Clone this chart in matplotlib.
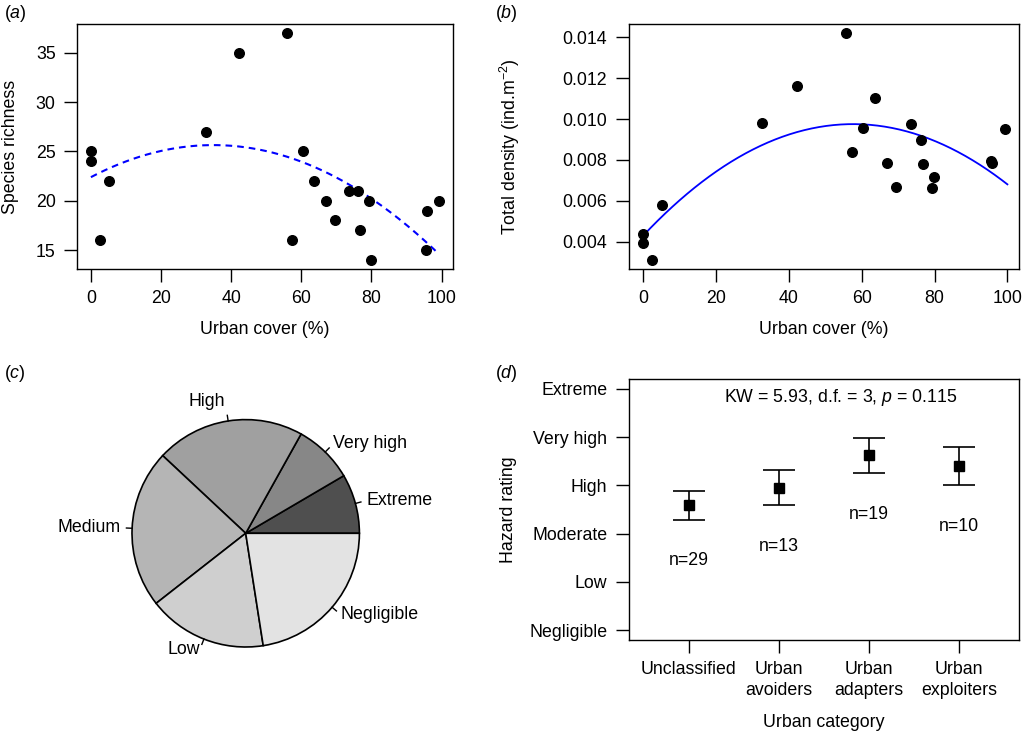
import numpy as np
import matplotlib
matplotlib.use("Agg")
import matplotlib.pyplot as plt

plt.rcParams['font.family'] = ['Liberation Sans', 'DejaVu Sans']
plt.rcParams['font.size'] = 12.8
plt.rcParams['mathtext.fontset'] = 'custom'
plt.rcParams['mathtext.rm'] = 'Liberation Sans'
plt.rcParams['mathtext.it'] = 'Liberation Sans:italic'
plt.rcParams['mathtext.bf'] = 'Liberation Sans:bold'

# ---------------- data ----------------
urban_cover = [0, 0, 2.6, 5.2, 32.7, 42.3, 55.8, 57.4, 60.5, 63.6, 67.0, 69.6,
               73.6, 76.2, 76.7, 79.3, 79.8, 95.5, 95.9, 99.3]
richness = [25, 24, 16, 22, 27, 35, 37, 16, 25, 22, 20, 18,
            21, 21, 17, 20, 14, 15, 19, 20]
density_x = [0, 0, 2.5, 5.1, 32.6, 42.3, 55.7, 57.3, 60.4, 63.6, 66.9, 69.4,
             73.6, 76.2, 76.8, 79.2, 79.8, 95.5, 95.9, 99.3]
density = [0.00439, 0.00393, 0.00310, 0.00578, 0.00981, 0.01162, 0.01421, 0.00838,
           0.00954, 0.01105, 0.00786, 0.00665, 0.00977, 0.00897, 0.00779, 0.00661,
           0.00716, 0.00796, 0.00786, 0.00950]

pie_labels = ['Extreme', 'Very high', 'High', 'Medium', 'Low', 'Negligible']
pie_counts = [6, 6, 15, 16, 12, 16]
pie_colors = ['#4f4f4f', '#878787', '#a0a0a0', '#b5b5b5', '#cfcfcf', '#e3e3e3']

hazard_levels = ['Negligible', 'Low', 'Moderate', 'High', 'Very high', 'Extreme']
categories = ['Unclassified', 'Urban\navoiders', 'Urban\nadapters', 'Urban\nexploiters']
hazard_mean = [2.583, 2.949, 3.619, 3.398]
hazard_upper = [2.880, 3.308, 3.978, 3.798]
hazard_lower = [2.293, 2.583, 3.246, 2.997]
n_species = [29, 13, 19, 10]

W, H = 1024, 734
fig = plt.figure(figsize=(W / 100, H / 100), dpi=100)


def px_axes(x0, y0, x1, y1):
    return fig.add_axes([x0 / W, 1 - y1 / H, (x1 - x0) / W, (y1 - y0) / H])


def style(ax):
    for s in ax.spines.values():
        s.set_linewidth(1.0)
    ax.tick_params(direction='out', length=9.4, width=1.0, pad=6,
                   top=False, right=False)


# ---------------- (a) ----------------
ax = px_axes(77, 24, 453, 269)
style(ax)
ux = np.array(urban_cover)
ax.scatter(ux, richness, s=48, color='black', zorder=3)
ca = np.polyfit(ux, richness, 2)
xa = np.linspace(0, max(urban_cover), 200)
ax.plot(xa, np.polyval(ca, xa), color='#0000ff', lw=1.5,
        linestyle=(0, (3.2, 2.4)))
ax.set_xlim(-3.97, 103.27)
ax.set_ylim(13.08, 37.92)
ax.set_xticks(range(0, 101, 20))
ax.set_yticks(range(15, 36, 5))
ax.set_xlabel('Urban cover (%)')
ax.xaxis.set_label_coords(0.5, -0.245)
ax.xaxis.label.set_va('center')
ax.set_ylabel('Species richness')
ax.yaxis.set_label_coords(-0.178, 0.5)
ax.yaxis.label.set_va('center')
fig.text(4 / W, 1 - 14 / H, r'($\it{a}$)', va='center', ha='left')

# ---------------- (b) ----------------
ax = px_axes(628.7, 24, 1019.3, 269)
style(ax)
dx = np.array(density_x)
ax.scatter(dx, density, s=48, color='black', zorder=3)
cb = np.polyfit(dx, density, 2)
xb = np.linspace(0, 100, 200)
ax.plot(xb, np.polyval(cb, xb), color='#0000ff', lw=1.3)
ax.set_xlim(-3.97, 103.27)
ax.set_ylim(0.00266, 0.01465)
ax.set_xticks(range(0, 101, 20))
ax.set_yticks([0.004, 0.006, 0.008, 0.010, 0.012, 0.014])
ax.set_yticklabels(['0.004', '0.006', '0.008', '0.010', '0.012', '0.014'])
ax.set_xlabel('Urban cover (%)')
ax.xaxis.set_label_coords(0.5, -0.245)
ax.xaxis.label.set_va('center')
ax.set_ylabel(r'Total density (ind.m$^{-2}$)')
ax.yaxis.set_label_coords(-0.304, 0.5)
ax.yaxis.label.set_va('center')
fig.text(495 / W, 1 - 14 / H, r'($\it{b}$)', va='center', ha='left')

# ---------------- (c) ----------------
cx, cy, R = 245.7, 533.3, 113.7
half = 200
axp = px_axes(cx - half, cy - half, cx + half, cy + half)
axp.axis('off')
wedges, _ = axp.pie(pie_counts, colors=pie_colors, startangle=0,
                    counterclock=True, radius=1.0, center=(0, 0),
                    wedgeprops=dict(edgecolor='black', linewidth=1.2))
axp.set_xlim(-half / R, half / R)
axp.set_ylim(-half / R, half / R)
label_r = [1.1, 1.1, 1.17, 1.1, 1.1, 1.1]
cum = np.cumsum([0] + pie_counts)
tot = sum(pie_counts)
for i, lab in enumerate(pie_labels):
    mid = np.deg2rad((cum[i] + cum[i + 1]) / 2 / tot * 360)
    c, s = np.cos(mid), np.sin(mid)
    axp.plot([c, 1.05 * c], [s, 1.05 * s], color='black', lw=1.0)
    axp.text(label_r[i] * c, label_r[i] * s, lab,
             ha='left' if c > 0 else 'right', va='center')
fig.text(4 / W, 1 - 373 / H, r'($\it{c}$)', va='center', ha='left')

# ---------------- (d) ----------------
ax = px_axes(628.7, 379, 1019.3, 640)
style(ax)
xs = np.arange(1, len(categories) + 1)
mean = np.array(hazard_mean)
lo = np.array(hazard_lower)
up = np.array(hazard_upper)
ax.errorbar(xs, mean, yerr=[mean - lo, up - mean], fmt='s', color='black',
            markersize=7, capsize=11.2, elinewidth=1.2, capthick=1.2)
for x, l, n in zip(xs, lo, n_species):
    ax.text(x, l - 0.84, f'n={n}', ha='center', va='center')
ax.text(0.543, 0.93, r'KW = 5.93, d.f. = 3, $\it{p}$ = 0.115',
        transform=ax.transAxes, ha='center', va='center')
ax.set_xlim(0.335, 4.665)
ax.set_ylim(-0.2, 5.2)
ax.set_yticks(range(len(hazard_levels)))
ax.set_yticklabels(hazard_levels)
ax.set_xticks(xs)
ax.set_xticklabels(categories, linespacing=1.25)
ax.set_xlabel('Urban category')
ax.xaxis.set_label_coords(0.5, -0.318)
ax.xaxis.label.set_va('center')
ax.set_ylabel('Hazard rating')
ax.yaxis.set_label_coords(-0.309, 0.5)
ax.yaxis.label.set_va('center')
fig.text(495 / W, 1 - 373 / H, r'($\it{d}$)', va='center', ha='left')

fig.savefig('out.png', dpi=100)
